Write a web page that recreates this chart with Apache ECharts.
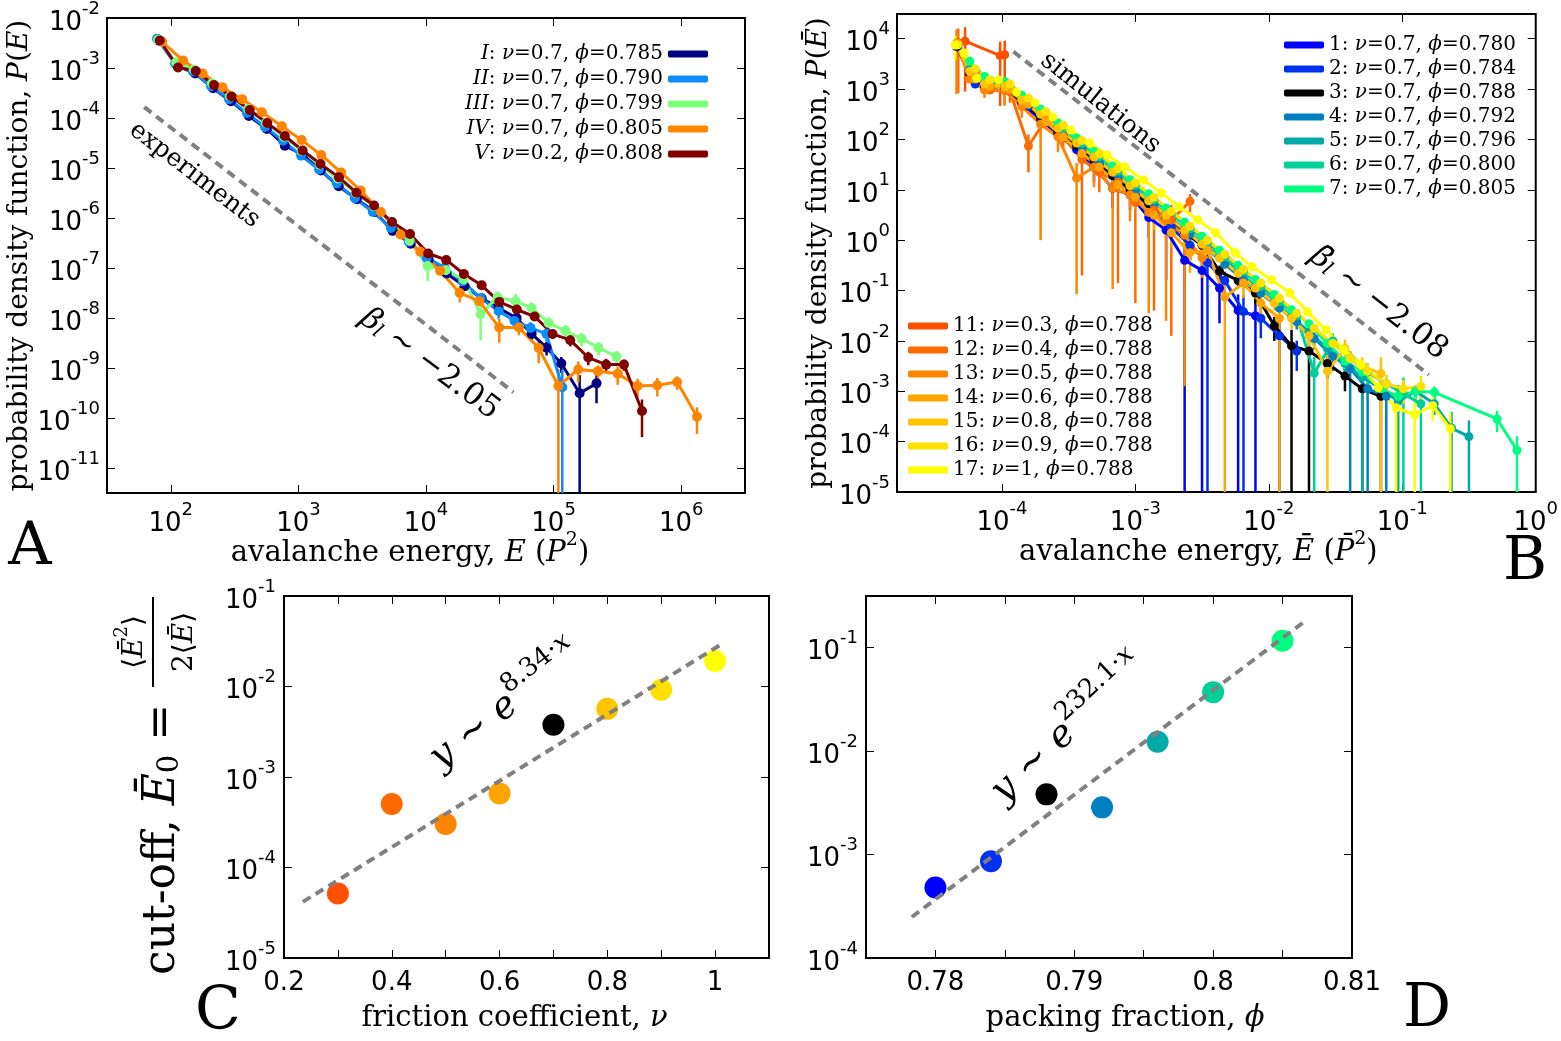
<!DOCTYPE html>
<html><head><meta charset="utf-8">
<script src="https://cdn.jsdelivr.net/npm/echarts@6/dist/echarts.min.js"></script>
<style>html,body{margin:0;padding:0;background:#fff}#c{width:1561px;height:1041px}</style>
</head><body><div id="c"></div>
<script>
// ---------------- Panel A (experiments) ----------------
const A_names = ['I','II','III','IV','V'];
const A_nu = ['0.7','0.7','0.7','0.7','0.2'];
const A_phi = ['0.785','0.790','0.799','0.805','0.808'];
const A_I_E = [80.9,112,155,214,296,409,566,783,1080,1500,2070,2870,3970,5480,7590,10500,14500,20100,27300,37100,51300,67300,88100,115000,160000,217000];
const A_I_P = [3.51e-3,1.12e-3,7.78e-4,3.93e-4,2.17e-4,1.10e-4,6.05e-5,2.79e-5,1.85e-5,8.91e-6,4.31e-6,2.38e-6,1.32e-6,5.53e-7,3.05e-7,1.47e-7,7.78e-8,4.31e-8,2.49e-8,1.58e-8,1.00e-8,4.82e-9,2.55e-9,1.23e-9,3.13e-10,4.93e-10];
const A_I_err = [0,0,0,0,0,0,0,0,0,0,0,0,0,0,0,0.15,0.15,0.15,0.2,0.2,0.25,0.3,0.3,0.35,1.3,0.6];
const A_II_E = [78,108,149,207,286,395,547,757,1050,1450,2000,2770,3830,5300,7330,10100,14000,19400,26800,37100,49400,65900,87900,117000];
const A_II_P = [3.84e-3,1.23e-3,8.53e-4,4.31e-4,2.38e-4,1.26e-4,6.64e-5,3.51e-5,1.77e-5,9.33e-6,4.93e-6,2.49e-6,1.32e-6,6.34e-7,3.35e-7,1.61e-7,1.02e-7,5.41e-8,2.49e-8,1.38e-8,8.73e-9,6.34e-9,4.82e-9,4.11e-10];
const A_II_err = [0,0,0,0,0,0,0,0,0,0,0,0,0,0,0,0,0.15,0.15,0.2,0.3,0.3,0.3,0.3,1.2];
const A_III_E = [79.6,110,152,210,291,403,557,771,1060,1470,2040,2820,3900,5400,7460,10300,14300,19700,26800,36400,50400,67300,91400,124000,166000,225000,311000];
const A_III_P = [3.66e-3,1.29e-3,9.33e-4,4.93e-4,2.73e-4,1.51e-4,7.96e-5,4.21e-5,2.22e-5,1.17e-5,6.19e-6,3.13e-6,1.73e-6,8.34e-7,3.5e-7,1.1e-7,9.0e-8,5.9e-8,1.20e-8,2.61e-8,2.17e-8,1.58e-8,7.96e-9,5.53e-9,3.84e-9,2.55e-9,1.69e-9];
const A_III_err = [0,0,0,0,0,0,0,0,0,0,0,0,0,0,0.2,0.5,0.3,0.3,0.7,0.3,0.4,0.3,0.3,0.3,0.3,0.3,0.3];
const A_IV_E = [85.5,125,178,254,363,518,743,1060,1510,2160,3080,4430,6310,9020,12900,18400,26200,37500,53500,76400,109000,156000,223000,318000,455000,650000,929000,1330000];
const A_IV_P = [3.35e-3,1.41e-3,7.78e-4,4.11e-4,2.38e-4,1.30e-4,6.86e-5,3.61e-5,1.82e-5,8.15e-6,3.53e-6,1.32e-6,4.67e-7,2.12e-7,8.81e-8,3.17e-8,2.17e-8,6.43e-9,6.43e-9,2.51e-9,4.37e-10,9.33e-10,8.65e-10,7.67e-10,4.37e-10,4.50e-10,5.24e-10,1.06e-10];
const A_IV_err = [0,0,0,0,0,0,0,0,0,0,0,0,0,0,0.2,0.35,0.2,0.5,0.3,0.5,1.2,0.45,0.3,0.4,0.4,0.4,0.3,0.55];
const A_V_E = [82,114,157,218,299,415,570,783,1080,1490,2080,2850,3920,5420,7500,10400,14400,19800,27300,37500,51500,71000,98200,135000,187000,258000,356000,493000];
const A_V_P = [3.55e-3,1.02e-3,8.7e-4,4.57e-4,2.69e-4,1.45e-4,7.9e-5,4.37e-5,2.24e-5,1.20e-5,6.5e-6,3.2e-6,1.78e-6,8.3e-7,4.8e-7,1.95e-7,1.45e-7,7.6e-8,4.5e-8,2.1e-8,1.48e-8,1.07e-8,4.8e-9,3.6e-9,1.62e-9,1.17e-9,1.17e-9,1.38e-10];
const A_V_err = [0,0,0,0,0,0,0,0,0,0,0,0,0,0,0,0,0,0,0,0,0.15,0.15,0.2,0.25,0.3,0.3,0.25,0.7];
const A_fit_E = [62, 48500];
const A_fit_P = [1.65e-4, 3.27e-10];
const A_xTicks = [2,3,4,5,6];
const A_yTicks = [-11,-10,-9,-8,-7,-6,-5,-4,-3,-2];

// ---------------- Panel B (simulations) ----------------
const B_names = ['1','2','3','4','5','6','7','11','12','13','14','15','16','17'];
const B_nu = ['0.7','0.7','0.7','0.7','0.7','0.7','0.7','0.3','0.4','0.5','0.6','0.8','0.9','1'];
const B_phi = ['0.780','0.784','0.788','0.792','0.796','0.800','0.805','0.788','0.788','0.788','0.788','0.788','0.788','0.788'];
const B_1_E = [4.57e-5,5.75e-5,7.41e-5,1.05e-4,1.41e-4,1.95e-4,2.63e-4,3.63e-4,4.90e-4,6.76e-4,9.12e-4,1.26e-3,1.70e-3,2.34e-3,3.16e-3,4.27e-3,5.89e-3,7.94e-3];
const B_1_P = [7080,2000,1000,955,501,251,126,63.1,28.2,10.7,7.94,2.82,1.58,0.398,0.251,0.112,0.0398,0.0316];
const B_1_err = [0,0,0,0,0,0,0,0,0.5,0.6,0.5,0.6,0.9,1.1,1.1,0.8,1.1,1.1];
const B_2_E = [4.68e-5,6.31e-5,8.13e-5,1.15e-4,1.58e-4,2.14e-4,2.88e-4,3.98e-4,5.37e-4,7.41e-4,1.00e-3,1.38e-3,1.86e-3,2.57e-3,3.47e-3,4.68e-3,6.46e-3,8.71e-3,1.20e-2,1.62e-2];
const B_2_P = [7080,1260,1000,891,457,240,120,60.3,31.6,15.8,7.94,3.55,1.78,0.794,0.355,0.158,0.0380,0.0282,0.0126,6.31e-3];
const B_2_err = [0,0,0,0,0,0,0,0,0,0,0.3,0.4,0.4,0.5,1.1,0.5,1.1,0.6,1.1,0.6];
const B_3_E = [4.57e-5,5.75e-5,7.41e-5,1.05e-4,1.41e-4,1.95e-4,2.63e-4,3.63e-4,4.90e-4,6.76e-4,9.12e-4,1.26e-3,1.70e-3,2.34e-3,3.16e-3,4.27e-3,5.89e-3,7.94e-3,1.10e-2,1.48e-2,2.00e-2,2.75e-2,3.72e-2,5.01e-2,6.92e-2];
const B_3_P = [7080,2000,1120,1050,562,282,141,75.9,39.8,19.1,10.0,5.25,2.82,1.41,0.794,0.240,0.158,0.0891,0.0200,7.94e-3,6.31e-3,3.55e-3,2.00e-3,1.12e-3,7.94e-4];
const B_3_err = [0,0,0,0,0,0,0,0,0,0,0,0,0,0,0.3,0.3,0.3,0.4,0.5,1.1,1.1,0.5,0.5,1.1,1.1];
const B_4_E = [4.68e-5,6.31e-5,8.13e-5,1.15e-4,1.58e-4,2.14e-4,2.88e-4,3.98e-4,5.37e-4,7.41e-4,1.00e-3,1.38e-3,1.86e-3,2.57e-3,3.47e-3,4.68e-3,6.46e-3,8.71e-3,1.20e-2,1.62e-2,2.19e-2,3.02e-2,4.07e-2,5.50e-2,7.59e-2];
const B_4_P = [7940,1780,1120,1000,501,263,135,70.8,35.5,18.6,9.55,5.01,2.51,1.32,0.661,0.331,0.166,0.0891,0.0447,0.0240,0.0112,5.01e-3,2.82e-3,1.12e-3,7.94e-4];
const B_4_err = [0,0,0,0,0,0,0,0,0,0,0,0,0,0,0,0,0,0,0,0.3,0.4,0.5,1.1,1.1,1.1];
const B_5_E = [4.57e-5,5.75e-5,7.41e-5,1.05e-4,1.41e-4,1.95e-4,2.63e-4,3.63e-4,4.90e-4,6.76e-4,9.12e-4,1.26e-3,1.70e-3,2.34e-3,3.16e-3,4.27e-3,5.89e-3,7.94e-3,1.10e-2,1.48e-2,2.00e-2,2.75e-2,3.72e-2,5.01e-2,6.92e-2,9.33e-2,0.126,0.174,0.234,0.316];
const B_5_P = [7590,2510,1410,1170,631,331,178,89.1,46.8,24.0,12.6,6.31,3.31,1.66,0.891,0.479,0.240,0.120,0.0603,0.0302,0.0151,7.08e-3,3.55e-3,1.91e-3,1.12e-3,6.31e-4,1.00e-3,5.62e-4,1.86e-4,1.26e-4];
const B_5_err = [0,0,0,0,0,0,0,0,0,0,0,0,0,0,0,0,0,0,0,0,0,0.3,0.4,1.1,0.4,1.1,0.3,0.4,1.1,1.1];
const B_6_E = [4.68e-5,6.31e-5,8.13e-5,1.15e-4,1.58e-4,2.14e-4,2.88e-4,3.98e-4,5.37e-4,7.41e-4,1.00e-3,1.38e-3,1.86e-3,2.57e-3,3.47e-3,4.68e-3,6.46e-3,8.71e-3,1.20e-2,1.62e-2,2.19e-2,3.02e-2,4.07e-2,5.50e-2,7.59e-2,0.102,0.138];
const B_6_P = [7590,2240,1320,1120,575,316,166,85.1,45.7,23.4,12.3,6.31,3.31,1.70,0.891,0.468,0.240,0.120,0.0603,0.0316,2.29e-3,0.0100,4.47e-3,2.40e-3,1.41e-3,8.91e-4,5.62e-4];
const B_6_err = [0,0,0,0,0,0,0,0,0,0,0,0,0,0,0,0,0,0,0.3,0.3,1.1,0.4,0.4,0.5,0.5,1.1,1.1];
const B_7_E = [4.57e-5,5.75e-5,7.41e-5,1.05e-4,1.41e-4,1.95e-4,2.63e-4,3.63e-4,4.90e-4,6.76e-4,9.12e-4,1.26e-3,1.70e-3,2.34e-3,3.16e-3,4.27e-3,5.89e-3,7.94e-3,1.10e-2,1.48e-2,2.00e-2,2.75e-2,3.72e-2,5.01e-2,6.92e-2,9.33e-2,0.126,0.174,0.513,0.724];
const B_7_P = [7940,3550,1780,1410,759,398,214,107,57.5,29.5,15.8,8.32,4.37,2.29,1.20,0.631,0.316,0.166,0.0832,0.0417,0.0219,8.91e-3,3.98e-3,2.40e-3,1.12e-3,7.94e-4,1.00e-3,9.55e-4,2.82e-4,6.76e-5];
const B_7_err = [0,0,0,0,0,0,0,0,0,0,0,0,0,0,0,0,0,0,0,0,0,0,0.3,0.4,0.4,0.5,0.3,0.3,0.45,0.9];
const B_11_E = [4.7e-5,5.3e-5,9.7e-5,1.05e-4];
const B_11_P = [8300,8900,4600,4800];
const B_11_err = [0.9,0.9,0.9,0.9];
const B_12_E = [4.68e-5,6.31e-5,8.13e-5,1.15e-4,1.58e-4,2.14e-4,2.88e-4,3.98e-4,5.37e-4,7.41e-4,1.00e-3,1.38e-3,1.86e-3,2.57e-3];
const B_12_P = [8320,2000,955,891,74.1,251,112,39.8,22.4,14.1,5.62,3.98,2.51,5.89];
const B_12_err = [0.9,0,0,0.4,0.7,0.3,0.4,0.995,0.6,0.99,0.99,0.99,0.995,0.4];
const B_13_E = [4.57e-5,5.75e-5,7.41e-5,1.05e-4,1.41e-4,1.95e-4,2.63e-4,3.63e-4,4.90e-4,6.76e-4,9.12e-4,1.26e-3,1.70e-3,2.34e-3,3.16e-3];
const B_13_P = [7940,1580,955,933,447,200,112,17.0,28.2,10.7,7.94,3.55,2.51,1.26,0.447];
const B_13_err = [0.9,0,0.3,0.5,0.4,0.995,0.5,0.995,0.6,0.99,0.7,0.99,0.99,0.999,0.6];
const B_14_E = [4.68e-5,6.31e-5,8.13e-5,1.15e-4,1.58e-4,2.14e-4,2.88e-4,3.98e-4,5.37e-4,7.41e-4,1.00e-3,1.38e-3,1.86e-3,2.57e-3,3.47e-3,4.68e-3,6.46e-3,8.71e-3,1.20e-2];
const B_14_P = [7940,1580,1120,1000,501,224,112,52.5,28.2,12.6,7.08,3.16,1.41,0.562,0.631,0.0741,0.141,0.0562,0.0282];
const B_14_err = [0,0,0,0,0,0,0,0,0,0,0.4,0.5,0.5,0.6,0.5,1.1,0.5,0.5,1.1];
const B_15_E = [4.57e-5,5.75e-5,7.41e-5,1.05e-4,1.41e-4,1.95e-4,2.63e-4,3.63e-4,4.90e-4,6.76e-4,9.12e-4,1.26e-3,1.70e-3,2.34e-3,3.16e-3,4.27e-3,5.89e-3,7.94e-3,1.10e-2,1.48e-2,2.00e-2,2.75e-2,3.72e-2,5.01e-2,6.92e-2];
const B_15_P = [7590,2240,1260,1120,603,316,166,85.1,44.7,22.4,12.0,6.03,3.16,1.58,0.832,0.437,0.219,0.112,0.0562,0.0282,0.0126,2.51e-3,7.08e-3,3.16e-3,2.24e-3];
const B_15_err = [0,0,0,0,0,0,0,0,0,0,0,0,0,0,0,0,0,0.3,0.3,0.4,0.5,1.1,0.5,0.5,1.1];
const B_16_E = [4.68e-5,6.31e-5,8.13e-5,1.15e-4,1.58e-4,2.14e-4,2.88e-4,3.98e-4,5.37e-4,7.41e-4,1.00e-3,1.38e-3,1.86e-3,2.57e-3,3.47e-3,4.68e-3,6.46e-3,8.71e-3,1.20e-2,1.62e-2,2.19e-2,3.02e-2,4.07e-2,5.50e-2,7.59e-2,0.102,0.138];
const B_16_P = [7590,2510,1510,1260,661,355,191,95.5,51.3,26.3,13.8,7.08,3.72,1.91,1.00,0.525,0.263,0.141,0.0708,0.0355,0.0178,8.91e-3,4.47e-3,2.51e-3,1.41e-3,1.12e-3,1.26e-3];
const B_16_err = [0,0,0,0,0,0,0,0,0,0,0,0,0,0,0,0,0,0,0,0,0,0,0.3,0.4,0.5,0.5,0.6];
const B_17_E = [4.47e-5,5.21e-5,6.5e-5,9.46e-5,1.29e-4,1.77e-4,2.41e-4,3.27e-4,4.53e-4,6.15e-4,8.36e-4,1.15e-3,1.57e-3,2.13e-3,2.94e-3,4.0e-3,5.62e-3,7.5e-3,1.05e-2,1.43e-2,1.95e-2,2.69e-2,3.65e-2,4.88e-2,6.62e-2,8.99e-2,0.124,0.169,0.229];
const B_17_P = [7500,5200,1660,1520,875,530,279,154,85.3,49.2,28.4,15.7,8.67,4.58,2.53,1.40,0.560,0.295,0.163,0.0899,0.0378,0.0166,6.65e-3,3.36e-3,1.17e-3,4.71e-4,3.42e-4,5.15e-4,1.80e-4];
const B_17_err = [0.5,0,0,0,0,0,0,0,0,0,0,0,0,0,0,0,0,0,0,0,0,0,0,0.3,0.3,1.1,1.1,0.5,1.1];
const B_fit_E = [1.22e-4, 0.158];
const B_fit_P = [5520, 2.13e-3];
const B_xTicks = [-4,-3,-2,-1,0];
const B_yTicks = [-5,-4,-3,-2,-1,0,1,2,3,4];

// ---------------- Panel C (cut-off vs friction) ----------------
const C_nu = [0.3,0.4,0.5,0.6,0.7,0.8,0.9,1.0];
const C_E0 = [5.15e-5,5.02e-4,3.02e-4,6.59e-4,3.77e-3,5.66e-3,9.19e-3,1.91e-2];
const C_fit_x = [0.235, 1.01];
const C_fit_y = [4.17e-5, 2.89e-2];
const C_xTicks = [0.2,0.3,0.4,0.5,0.6,0.7,0.8,0.9,1.0];
const C_xLabels = [0.2,0.4,0.6,0.8,1.0];
const C_yTicks = [-5,-4,-3,-2,-1];

// ---------------- Panel D (cut-off vs packing fraction) ----------------
const D_phi = [0.780,0.784,0.788,0.792,0.796,0.800,0.805];
const D_E0 = [4.80e-4,8.63e-4,3.82e-3,2.86e-3,1.23e-2,3.72e-2,0.117];
const D_fit_x = [0.7783, 0.8066];
const D_fit_y = [2.49e-4, 0.180];
const D_xTicks = [0.78,0.785,0.79,0.795,0.8,0.805];
const D_xLabels = [0.78,0.79,0.8,0.81];
const D_yTicks = [-4,-3,-2,-1];

// ---------------- styles ----------------
const A_colors = ['#000080','#0a8cff','#7dff7d','#ff8400','#800000'];
const B_colors = {'1':'#0000ff','2':'#0030f0','3':'#000000','4':'#0080c0','5':'#00aaaa','6':'#00d095','7':'#00ff80',
  '11':'#ff5000','12':'#ff6a00','13':'#ff8500','14':'#ffa500','15':'#ffc400','16':'#ffe000','17':'#ffff00'};
const C_colors = ['#ff5000','#ff6a00','#ff8500','#ffa500','#000000','#ffc400','#ffe000','#ffff00'];
const D_colors = ['#0000ff','#0030f0','#000000','#0080c0','#00aaaa','#00d095','#00ff80'];

const SERIF = '"DejaVu Serif","Liberation Serif",serif';
const SANS = '"DejaVu Sans",sans-serif';
const L10 = Math.log10;

function expLabel(size, sup) {
  return {
    formatter: v => '{b|10}{s|' + Math.round(v) + '}',
    rich: {
      b: {fontFamily: SANS, fontSize: size, lineHeight: size + 10, verticalAlign: 'bottom', color: '#000'},
      s: {fontFamily: SANS, fontSize: sup, lineHeight: size + 10, verticalAlign: 'top', color: '#000'}
    }
  };
}
function axis(gi, pos, min, max, ticks, labels, labelCfg, margin, extra) {
  const ax = {
    type: 'value', gridIndex: gi, position: pos, min: min, max: max,
    axisLine: {show: false, onZero: false}, splitLine: {show: false},
    axisTick: {show: true, inside: true, length: 8, customValues: ticks, lineStyle: {color: '#000', width: 1}},
    axisLabel: labels ? Object.assign({show: true, customValues: labels, margin: margin, color: '#000'}, labelCfg) : {show: false}
  };
  return Object.assign(ax, extra || {});
}
function rich(size) {
  return {
    n: {fontFamily: SERIF, fontSize: size, color: '#000', lineHeight: size + 8, verticalAlign: 'bottom'},
    it: {fontFamily: SERIF, fontSize: size, fontStyle: 'italic', color: '#000', lineHeight: size + 8, verticalAlign: 'bottom'},
    sup: {fontFamily: SERIF, fontSize: Math.round(size * 0.66), color: '#000', lineHeight: size + 8, verticalAlign: 'top'},
    sub: {fontFamily: SERIF, fontSize: Math.round(size * 0.66), fontStyle: 'italic', color: '#000', lineHeight: size + 8, verticalAlign: 'bottom'}
  };
}
function nameCfg(text, size, gap, pad, noMove) {
  const c = {name: text, nameLocation: 'middle', nameGap: gap,
    nameTextStyle: {fontFamily: SERIF, fontSize: size, color: '#000', rich: rich(size), padding: pad || 0}};
  if (noMove) c.nameMoveOverlap = false;
  return c;
}

const series = [];
function addSeries(name, E, P, err, color, xi, yi, ymin, lw, ss, ew) {
  const edata = [];
  E.forEach((e, i) => {
    const f = err[i];
    if (f > 0) {
      const hi = L10(P[i] * (1 + f));
      const lo = f >= 1 ? ymin : Math.max(ymin, L10(P[i] * (1 - f)));
      edata.push([L10(e), lo, hi]);
    }
  });
  series.push({
    type: 'custom', xAxisIndex: xi, yAxisIndex: yi, silent: true, data: edata, encode: {x: 0, y: [1, 2]},
    renderItem: (params, api) => {
      const a = api.coord([api.value(0), api.value(1)]);
      const b = api.coord([api.value(0), api.value(2)]);
      return {type: 'line', shape: {x1: a[0], y1: a[1], x2: b[0], y2: b[1]}, style: {stroke: color, lineWidth: ew}};
    }
  });
  series.push({
    type: 'line', name: name, xAxisIndex: xi, yAxisIndex: yi, silent: true,
    data: E.map((e, i) => [L10(e), L10(P[i])]),
    symbol: 'circle', symbolSize: ss, showAllSymbol: true, clip: true,
    lineStyle: {color: color, width: lw}, itemStyle: {color: color, opacity: 1}
  });
}
function addFit(x, y, xi, yi, logx) {
  series.push({
    type: 'line', xAxisIndex: xi, yAxisIndex: yi, silent: true, symbol: 'none',
    data: x.map((v, i) => [logx ? L10(v) : v, L10(y[i])]),
    lineStyle: {color: '#808080', width: 4, type: [9, 6]}
  });
}

// Panel A series
addFit(A_fit_E, A_fit_P, 0, 0, true);
const A_data = [[A_I_E, A_I_P, A_I_err],[A_II_E, A_II_P, A_II_err],[A_III_E, A_III_P, A_III_err],[A_IV_E, A_IV_P, A_IV_err],[A_V_E, A_V_P, A_V_err]];
A_data.forEach((d, k) => addSeries(A_names[k], d[0], d[1], d[2], A_colors[k], 0, 0, -11.5, 3, 10, 2.5));
// Panel B series
addFit(B_fit_E, B_fit_P, 2, 2, true);
const B_data = {
  '1':[B_1_E,B_1_P,B_1_err],'2':[B_2_E,B_2_P,B_2_err],'3':[B_3_E,B_3_P,B_3_err],'4':[B_4_E,B_4_P,B_4_err],
  '5':[B_5_E,B_5_P,B_5_err],'6':[B_6_E,B_6_P,B_6_err],'7':[B_7_E,B_7_P,B_7_err],
  '11':[B_11_E,B_11_P,B_11_err],'12':[B_12_E,B_12_P,B_12_err],'13':[B_13_E,B_13_P,B_13_err],'14':[B_14_E,B_14_P,B_14_err],
  '15':[B_15_E,B_15_P,B_15_err],'16':[B_16_E,B_16_P,B_16_err],'17':[B_17_E,B_17_P,B_17_err]};
B_names.forEach(n => addSeries(n, B_data[n][0], B_data[n][1], B_data[n][2], B_colors[n], 2, 2, -5, 3, 9, 2.5));
// Panel C & D
addFit(C_fit_x, C_fit_y, 4, 4, false);
series.push({type: 'scatter', xAxisIndex: 4, yAxisIndex: 4, silent: true, symbolSize: 22,
  data: C_nu.map((v, i) => ({value: [v, L10(C_E0[i])], itemStyle: {color: C_colors[i], opacity: 1}}))});
addFit(D_fit_x, D_fit_y, 6, 6, false);
series.push({type: 'scatter', xAxisIndex: 6, yAxisIndex: 6, silent: true, symbolSize: 22,
  data: D_phi.map((v, i) => ({value: [v, L10(D_E0[i])], itemStyle: {color: D_colors[i], opacity: 1}}))});

const labTick = expLabel(26, 18);
const decLabel = {fontFamily: SANS, fontSize: 26, color: '#000', formatter: v => String(+v.toFixed(3))};

const xAxis = [
  axis(0, 'bottom', 1.5, 6.5, A_xTicks, A_xTicks, labTick, 8, nameCfg('{n|avalanche energy, }{it|E}{n| (}{it|P}{sup|2}{n|)}', 29, 38, [0, 32, 0, 0], true)),
  axis(0, 'top', 1.5, 6.5, A_xTicks, null),
  axis(1, 'bottom', -4.786, 0, B_xTicks, B_xTicks, labTick, 8, nameCfg('{n|avalanche energy, }{it|Ē}{n| (}{it|P̄}{sup|2}{n|)}', 29, 38, [0, 36, 0, 0], true)),
  axis(1, 'top', -4.786, 0, B_xTicks, null),
  axis(2, 'bottom', 0.2, 1.1, C_xTicks, C_xLabels, decLabel, 12, nameCfg('{n|friction coefficient, }{it|ν}', 29, 38, [0, 24, 0, 0], true)),
  axis(2, 'top', 0.2, 1.1, C_xTicks, null),
  axis(3, 'bottom', 0.775, 0.81, D_xTicks, D_xLabels, decLabel, 12, nameCfg('{n|packing fraction, }{it|ϕ}', 29, 38, [0, 0, 0, 32], true)),
  axis(3, 'top', 0.775, 0.81, D_xTicks, null)
];
const yAxis = [
  axis(0, 'left', -11.5, -2, A_yTicks, A_yTicks, labTick, 7, nameCfg('{n|probability density function, }{it|P}{n|(}{it|E}{n|)}', 28, 64)),
  axis(0, 'right', -11.5, -2, A_yTicks, null),
  axis(1, 'left', -5, 4.49, B_yTicks, B_yTicks, labTick, 7, nameCfg('{n|probability density function, }{it|P}{n|(}{it|Ē}{n|)}', 28, 64)),
  axis(1, 'right', -5, 4.49, B_yTicks, null),
  axis(2, 'left', -5, -1, C_yTicks, C_yTicks, labTick, 8),
  axis(2, 'right', -5, -1, C_yTicks, null),
  axis(3, 'left', -4, -0.5, D_yTicks, D_yTicks, labTick, 8),
  axis(3, 'right', -4, -0.5, D_yTicks, null)
];
const grid = [
  {left: 107, top: 14, width: 638, height: 479},
  {left: 897, top: 14, width: 647, height: 478},
  {left: 284, top: 596, width: 485, height: 362},
  {left: 866, top: 596, width: 486, height: 362}
].map(g => Object.assign(g, {show: true, borderColor: '#000', borderWidth: 2, backgroundColor: 'transparent'}));

const legRich = {
  n: {fontFamily: SERIF, fontSize: 20, color: '#000', lineHeight: 24},
  it: {fontFamily: SERIF, fontSize: 20, fontStyle: 'italic', color: '#000', lineHeight: 24}
};
const legendA = {
  data: A_names, orient: 'vertical', right: 1561 - 708, top: 42, align: 'right', padding: 0,
  icon: 'roundRect', itemWidth: 40, itemHeight: 7, itemGap: 1, selectedMode: false,
  textStyle: {fontFamily: SERIF, fontSize: 20, color: '#000', lineHeight: 24, rich: legRich},
  formatter: name => { const k = A_names.indexOf(name); return '{it|' + name + '}{n|: }{it|ν}{n|=' + A_nu[k] + ', }{it|ϕ}{n|=' + A_phi[k] + '}'; }
};
function legB(names, left, top) {
  return {
    data: names, orient: 'vertical', left: left, top: top, align: 'left', padding: 0,
    icon: 'roundRect', itemWidth: 40, itemHeight: 7, itemGap: 0, selectedMode: false,
    textStyle: {fontFamily: SERIF, fontSize: 20, color: '#000', lineHeight: 24, rich: legRich},
    formatter: name => { const k = B_names.indexOf(name); return '{n|' + name + ': }{it|ν}{n|=' + B_nu[k] + ', }{it|ϕ}{n|=' + B_phi[k] + '}'; }
  };
}

function txt(x, y, rot, text, size, extraRich) {
  return {type: 'text', x: x, y: y, rotation: rot, silent: true,
    style: {text: text, align: 'center', verticalAlign: 'middle', fontFamily: SERIF, fontSize: size, fill: '#000',
      rich: Object.assign(rich(size), extraRich || {})}};
}
const supi = (s) => ({supi: {fontFamily: SERIF, fontSize: s, fontStyle: 'italic', color: '#000', lineHeight: 48, verticalAlign: 'top'},
  sup: {fontFamily: SERIF, fontSize: s, color: '#000', lineHeight: 48, verticalAlign: 'top'}});
const graphic = [
  txt(197, 172, -0.655, '{n|experiments}', 25),
  txt(432, 361, -0.64, '{it|β}{sub|l}{n| ∼ −2.05}', 31),
  txt(1103, 100, -0.675, '{n|simulations}', 25),
  txt(1381, 300, -0.66, '{it|β̄}{sub|l}{n| ∼ −2.08}', 31),
  txt(503, 703, 0.66, '{it|y}{n| ∼ }{it|e}{sup|8.34·}{supi|x}', 38, supi(26)),
  txt(1066, 726, 0.75, '{it|y}{n| ∼ }{it|e}{sup|232.1·}{supi|x}', 38, supi(26)),
  {type: 'text', x: 30, y: 548, silent: true, style: {text: 'A', align: 'center', verticalAlign: 'middle', fontFamily: SERIF, fontSize: 60, fill: '#000'}},
  {type: 'text', x: 1525, y: 563, silent: true, style: {text: 'B', align: 'center', verticalAlign: 'middle', fontFamily: SERIF, fontSize: 60, fill: '#000'}},
  {type: 'text', x: 218, y: 1013, silent: true, style: {text: 'C', align: 'center', verticalAlign: 'middle', fontFamily: SERIF, fontSize: 60, fill: '#000'}},
  {type: 'text', x: 1427, y: 1010, silent: true, style: {text: 'D', align: 'center', verticalAlign: 'middle', fontFamily: SERIF, fontSize: 60, fill: '#000'}},
  {type: 'group', x: 153, y: 778, rotation: Math.PI / 2, silent: true, children: [
    {type: 'text', x: -197, y: 6, style: {text: '{n|cut-off, }{it|Ē}{sub|0}{n| =}', align: 'left', verticalAlign: 'middle',
      rich: Object.assign(rich(44), {sub: {fontFamily: SERIF, fontSize: 29, color: '#000', lineHeight: 52, verticalAlign: 'bottom'}})}},
    {type: 'text', x: 136, y: -22, style: {text: '{n|⟨}{it|Ē}{sup|2}{n|⟩}', align: 'center', verticalAlign: 'middle', rich: rich(28)}},
    {type: 'line', shape: {x1: 91, y1: 0, x2: 181, y2: 0}, style: {stroke: '#000', lineWidth: 2}},
    {type: 'text', x: 136, y: 28, style: {text: '{n|2⟨}{it|Ē}{n|⟩}', align: 'center', verticalAlign: 'middle', rich: rich(28)}}
  ]}
];

const option = {
  animation: false, backgroundColor: '#fff',
  grid: grid, xAxis: xAxis, yAxis: yAxis, series: series,
  legend: [legendA, legB(['1','2','3','4','5','6','7'], 1284, 33), legB(['11','12','13','14','15','16','17'], 908, 314)],
  graphic: graphic
};
const chart = echarts.init(document.getElementById('c'), null, {renderer: 'canvas'});
chart.setOption(option);
</script></body></html>
